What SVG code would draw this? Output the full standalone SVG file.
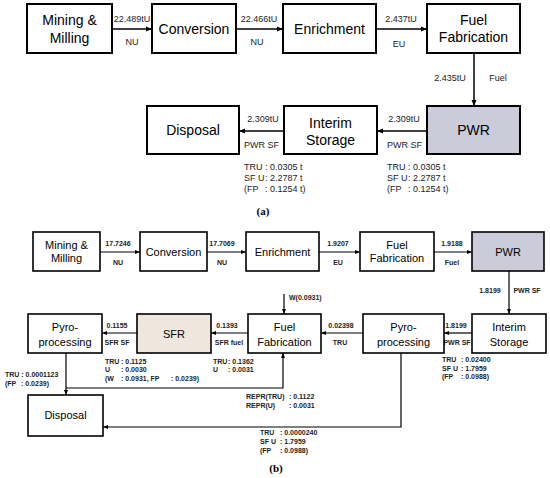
<svg xmlns="http://www.w3.org/2000/svg" width="550" height="478" viewBox="0 0 550 478">
<defs>
<marker id="ah" markerWidth="6" markerHeight="6" refX="6" refY="3" orient="auto" markerUnits="userSpaceOnUse">
<path d="M0,0.5 L6,3 L0,5.5 Z" fill="#000"/>
</marker>
<marker id="ahs" markerWidth="5" markerHeight="5" refX="5" refY="2.5" orient="auto" markerUnits="userSpaceOnUse">
<path d="M0,0.5 L5,2.5 L0,4.5 Z" fill="#000"/>
</marker>
</defs>
<style>
.na{fill:#fff;stroke:#000;stroke-width:2}
.nb{fill:#fff;stroke:#000;stroke-width:1.6}
.pwr{fill:#cbcbd9}
.sfr{fill:#efe6dd}
.ta{font-family:"Liberation Sans",Arial,sans-serif;font-size:14px;text-anchor:middle;fill:#000}
.tb{font-family:"Liberation Sans",Arial,sans-serif;font-size:11px;text-anchor:middle;fill:#000}
.la{font-family:"Liberation Sans",Arial,sans-serif;font-size:9px;fill:#222}
.lac{font-family:"Liberation Sans",Arial,sans-serif;font-size:9px;fill:#222;text-anchor:middle}
.lb{font-family:"Liberation Sans",Arial,sans-serif;font-size:7px;font-weight:bold;fill:#222}
.lbc{font-family:"Liberation Sans",Arial,sans-serif;font-size:7px;font-weight:bold;fill:#222;text-anchor:middle}
.ca{font-family:"Liberation Serif","Times New Roman",serif;font-size:11px;font-weight:bold;text-anchor:middle;fill:#000}
.ea{fill:none;stroke:#000;stroke-width:1.5;marker-end:url(#ah)}
.eb{fill:none;stroke:#000;stroke-width:1.2;marker-end:url(#ahs)}
</style>

<g id="connectors">
<line class="ea" x1="112" y1="29" x2="152" y2="29"/>
<line class="ea" x1="236" y1="29" x2="283" y2="29"/>
<line class="ea" x1="376" y1="29" x2="427" y2="29"/>
<line class="ea" x1="474" y1="53" x2="474" y2="106"/>
<line class="ea" x1="427" y1="131" x2="377" y2="131"/>
<line class="ea" x1="284" y1="131" x2="239" y2="131"/>
<line class="eb" x1="100" y1="252" x2="140" y2="252"/>
<line class="eb" x1="207" y1="252" x2="246" y2="252"/>
<line class="eb" x1="319" y1="252" x2="360" y2="252"/>
<line class="eb" x1="434" y1="252" x2="472" y2="252"/>
<line class="eb" x1="509" y1="271" x2="509" y2="314"/>
<line class="eb" x1="284" y1="294" x2="284" y2="314"/>
<line class="eb" x1="472" y1="333" x2="444" y2="333"/>
<line class="eb" x1="363" y1="333" x2="321" y2="333"/>
<line class="eb" x1="248" y1="333" x2="211" y2="333"/>
<line class="eb" x1="137" y1="333" x2="102" y2="333"/>
<line class="eb" x1="66" y1="353" x2="66" y2="395"/>
<polyline class="eb" points="66,388 283,388 283,353"/>
<polyline class="eb" points="401,353 401,427 103,427"/>
</g>

<g id="labels-a">
<text class="lac" x="132" y="22">22.489tU</text>
<text class="lac" x="132" y="45">NU</text>
<text class="lac" x="259" y="22">22.466tU</text>
<text class="lac" x="257" y="45">NU</text>
<text class="lac" x="401" y="22">2.437tU</text>
<text class="lac" x="399" y="47">EU</text>
<text class="lac" x="450" y="81">2.435tU</text>
<text class="lac" x="498" y="81">Fuel</text>
<text class="lac" x="263" y="122">2.309tU</text>
<text class="la" x="244" y="148">PWR SF</text>
<text class="lac" x="404" y="122">2.309tU</text>
<text class="la" x="387" y="148">PWR SF</text>
<text class="la" x="244" y="170">TRU</text><text class="la" x="265" y="170">: 0.0305 t</text>
<text class="la" x="244" y="181">SF U</text><text class="la" x="265" y="181">: 2.2787 t</text>
<text class="la" x="244" y="192">(FP</text><text class="la" x="265" y="192">: 0.1254 t)</text>
<text class="la" x="387" y="170">TRU</text><text class="la" x="408" y="170">: 0.0305 t</text>
<text class="la" x="387" y="181">SF U</text><text class="la" x="408" y="181">: 2.2787 t</text>
<text class="la" x="387" y="192">(FP</text><text class="la" x="408" y="192">: 0.1254 t)</text>
<text class="ca" x="263" y="215">(a)</text>
</g>

<g id="labels-b">
<text class="lbc" x="118" y="246">17.7246</text>
<text class="lbc" x="118" y="265">NU</text>
<text class="lbc" x="222" y="246">17.7069</text>
<text class="lbc" x="222" y="265">NU</text>
<text class="lbc" x="338" y="246">1.9207</text>
<text class="lbc" x="338" y="265">EU</text>
<text class="lbc" x="452" y="246">1.9188</text>
<text class="lbc" x="452" y="265">Fuel</text>
<text class="lbc" x="490" y="293">1.8199</text>
<text class="lbc" x="527" y="293">PWR SF</text>
<text class="lb" x="289" y="300">W(0.0931)</text>
<text class="lbc" x="117" y="328">0.1155</text>
<text class="lbc" x="117" y="345">SFR SF</text>
<text class="lbc" x="227" y="328">0.1393</text>
<text class="lbc" x="229" y="345">SFR fuel</text>
<text class="lbc" x="341" y="328">0.02398</text>
<text class="lbc" x="340" y="345">TRU</text>
<text class="lbc" x="456" y="328">1.8199</text>
<text class="lbc" x="457" y="345">PWR SF</text>
<text class="lb" x="105" y="364">TRU</text><text class="lb" x="121" y="364">: 0.1125</text>
<text class="lb" x="105" y="372">U</text><text class="lb" x="121" y="372">: 0.0030</text>
<text class="lb" x="105" y="381">(W</text><text class="lb" x="121" y="381">: 0.0931, FP</text><text class="lb" x="171" y="381">: 0.0239)</text>
<text class="lb" x="213" y="364">TRU</text><text class="lb" x="228" y="364">: 0.1362</text>
<text class="lb" x="213" y="372">U</text><text class="lb" x="228" y="372">: 0.0031</text>
<text class="lb" x="5" y="377">TRU : 0.0001123</text>
<text class="lb" x="5" y="386">(FP</text><text class="lb" x="21" y="386">: 0.0239)</text>
<text class="lb" x="442" y="362">TRU</text><text class="lb" x="461" y="362">: 0.02400</text>
<text class="lb" x="442" y="371">SF U</text><text class="lb" x="461" y="371">: 1.7959</text>
<text class="lb" x="442" y="379">(FP</text><text class="lb" x="461" y="379">: 0.0988)</text>
<text class="lb" x="246" y="399">REPR(TRU)</text><text class="lb" x="289" y="399">: 0.1122</text>
<text class="lb" x="246" y="408">REPR(U)</text><text class="lb" x="289" y="408">: 0.0031</text>
<text class="lb" x="260" y="435">TRU</text><text class="lb" x="280" y="435">: 0.0000240</text>
<text class="lb" x="260" y="444">SF U</text><text class="lb" x="280" y="444">: 1.7959</text>
<text class="lb" x="260" y="453">(FP</text><text class="lb" x="280" y="453">: 0.0988)</text>
<text class="ca" x="276" y="472">(b)</text>
</g>

<g id="a-mining"><rect class="na" x="27" y="4" width="85" height="49"/><text class="ta" x="69.5" y="25">Mining &amp;</text><text class="ta" x="69.5" y="43">Milling</text></g>
<g id="a-conversion"><rect class="na" x="152" y="4" width="84" height="49"/><text class="ta" x="194" y="34">Conversion</text></g>
<g id="a-enrichment"><rect class="na" x="283" y="4" width="93" height="49"/><text class="ta" x="329.5" y="34">Enrichment</text></g>
<g id="a-fuelfab"><rect class="na" x="427" y="4" width="93" height="49"/><text class="ta" x="473.5" y="25">Fuel</text><text class="ta" x="473.5" y="42">Fabrication</text></g>
<g id="a-disposal"><rect class="na" x="147" y="106" width="92" height="48"/><text class="ta" x="193" y="135">Disposal</text></g>
<g id="a-interim"><rect class="na" x="284" y="106" width="93" height="48"/><text class="ta" x="330.5" y="128">Interim</text><text class="ta" x="330.5" y="145">Storage</text></g>
<g id="a-pwr"><rect class="na pwr" x="427" y="106" width="93" height="48"/><text class="ta" x="473.5" y="135">PWR</text></g>

<g id="b-mining"><rect class="nb" x="33" y="232" width="67" height="39"/><text class="tb" x="66.5" y="249">Mining &amp;</text><text class="tb" x="66.5" y="262">Milling</text></g>
<g id="b-conversion"><rect class="nb" x="140" y="232" width="67" height="39"/><text class="tb" x="173.5" y="256">Conversion</text></g>
<g id="b-enrichment"><rect class="nb" x="246" y="232" width="73" height="39"/><text class="tb" x="282.5" y="256">Enrichment</text></g>
<g id="b-fuelfab1"><rect class="nb" x="360" y="232" width="74" height="39"/><text class="tb" x="397" y="249">Fuel</text><text class="tb" x="397" y="262">Fabrication</text></g>
<g id="b-pwr"><rect class="nb pwr" x="472" y="232" width="72" height="39"/><text class="tb" x="508" y="256">PWR</text></g>
<g id="b-pyro1"><rect class="nb" x="28" y="314" width="74" height="39"/><text class="tb" x="65" y="331">Pyro-</text><text class="tb" x="65" y="346">processing</text></g>
<g id="b-sfr"><rect class="nb sfr" x="137" y="314" width="74" height="39"/><text class="tb" x="174" y="338">SFR</text></g>
<g id="b-fuelfab2"><rect class="nb" x="248" y="314" width="73" height="39"/><text class="tb" x="284.5" y="331">Fuel</text><text class="tb" x="284.5" y="346">Fabrication</text></g>
<g id="b-pyro2"><rect class="nb" x="363" y="314" width="81" height="39"/><text class="tb" x="403.5" y="331">Pyro-</text><text class="tb" x="403.5" y="346">processing</text></g>
<g id="b-interim"><rect class="nb" x="472" y="314" width="74" height="39"/><text class="tb" x="509" y="331">Interim</text><text class="tb" x="509" y="346">Storage</text></g>
<g id="b-disposal"><rect class="nb" x="28" y="395" width="75" height="41"/><text class="tb" x="65.5" y="419">Disposal</text></g>
</svg>
